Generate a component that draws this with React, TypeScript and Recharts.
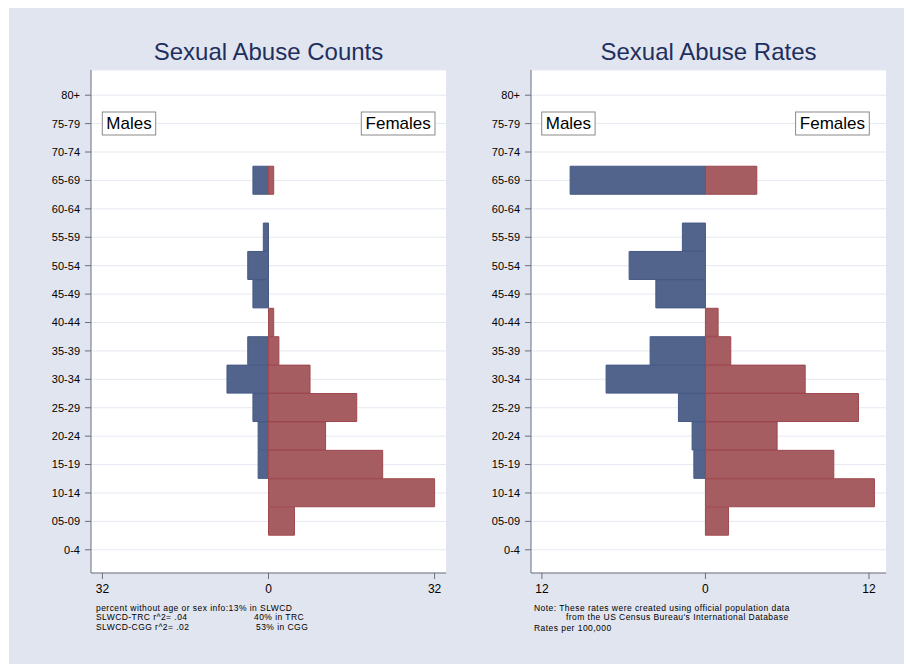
import React from "react";
import { BarChart, Bar, XAxis, YAxis, CartesianGrid } from "recharts";

// age groups, top of the pyramid first
const ageGroups = [
  "80+", "75-79", "70-74", "65-69", "60-64", "55-59", "50-54", "45-49", "40-44",
  "35-39", "30-34", "25-29", "20-24", "15-19", "10-14", "05-09", "0-4",
];

const maleCounts = [0, 0, 0, 3, 0, 1, 4, 3, 0, 4, 8, 3, 2, 2, 0, 0, 0];
const femaleCounts = [0, 0, 0, 1, 0, 0, 0, 0, 1, 2, 8, 17, 11, 22, 32, 5, 0];

const maleRates = [0, 0, 0, 9.93, 0, 1.69, 5.6, 3.64, 0, 4.06, 7.29, 1.98, 0.98, 0.85, 0, 0, 0];
const femaleRates = [0, 0, 0, 3.77, 0, 0, 0, 0, 0.93, 1.86, 7.32, 11.23, 5.26, 9.42, 12.4, 1.69, 0];

const countTicks = [-32, 0, 32];
const rateTicks = [-12, 0, 12];

const FONT = "'Liberation Sans', Arial, Helvetica, sans-serif";
const MALE = "#52648b";
const MALE_EDGE = "#465a86";
const FEMALE = "#a65d61";
const FEMALE_EDGE = "#9e474e";
const AXIS = "#6b6f7b";
const BG = "#e1e5ef";

function buildRows(males: number[], females: number[]) {
  return ageGroups.map((age, i) => ({ age, male: -males[i], female: females[i] }));
}

interface PyramidProps {
  rows: { age: string; male: number; female: number }[];
  domain: [number, number];
  ticks: number[];
  left: number;
}

function Pyramid({ rows, domain, ticks, left }: PyramidProps) {
  return (
    <div style={{ position: "absolute", left, top: 0 }}>
      <BarChart
        width={440}
        height={620}
        data={rows}
        layout="vertical"
        stackOffset="sign"
        barCategoryGap={0}
        margin={{ top: 62, right: 3, bottom: 30, left: 22 }}
      >
        <CartesianGrid vertical={false} stroke="#e6e9f2" fill="#ffffff" />
        <XAxis
          type="number"
          domain={domain}
          ticks={ticks}
          allowDataOverflow
          height={25}
          tickSize={6}
          tickMargin={5}
          tickFormatter={(v: number) => String(Math.abs(v))}
          tick={{ fontSize: 12, fill: "#000", fontFamily: FONT }}
          axisLine={{ stroke: AXIS }}
          tickLine={{ stroke: AXIS }}
        />
        <YAxis
          type="category"
          dataKey="age"
          width={60}
          interval={0}
          tickSize={6}
          tickMargin={5}
          padding={{ top: 11, bottom: 9 }}
          tick={{ fontSize: 11, fill: "#000", fontFamily: FONT }}
          axisLine={{ stroke: AXIS }}
          tickLine={{ stroke: AXIS }}
        />
        <Bar dataKey="male" stackId="s" fill={MALE} stroke={MALE_EDGE} isAnimationActive={false} />
        <Bar dataKey="female" stackId="s" fill={FEMALE} stroke={FEMALE_EDGE} isAnimationActive={false} />
      </BarChart>
    </div>
  );
}

function SexBox({ x, y, w, label }: { x: number; y: number; w: number; label: string }) {
  return (
    <g>
      <rect x={x} y={y} width={w} height={23} fill="#fff" stroke="#8a8a8a" />
      <text x={x + w / 2} y={y + 17} textAnchor="middle" fontSize={17} fill="#000">
        {label}
      </text>
    </g>
  );
}

export default function App() {
  const countRows = buildRows(maleCounts, femaleCounts);
  const rateRows = buildRows(maleRates, femaleRates);

  return (
    <div
      style={{
        position: "absolute",
        left: 9,
        top: 8,
        width: 895,
        height: 656,
        background: BG,
        fontFamily: FONT,
        overflow: "hidden",
      }}
    >
      <Pyramid rows={countRows} domain={[-34.2, 34.2]} ticks={countTicks} left={0} />
      <Pyramid rows={rateRows} domain={[-12.8, 13.25]} ticks={rateTicks} left={440} />

      <svg
        width={895}
        height={656}
        style={{ position: "absolute", left: 0, top: 0, pointerEvents: "none" }}
        fontFamily={FONT}
      >
        <text x={259.5} y={51.5} textAnchor="middle" fontSize={24} fill="#1e2f5e">
          Sexual Abuse Counts
        </text>
        <text x={699.5} y={51.5} textAnchor="middle" fontSize={24} fill="#1e2f5e">
          Sexual Abuse Rates
        </text>

        <SexBox x={93.3} y={104} w={53.4} label="Males" />
        <SexBox x={352.3} y={104} w={73.7} label="Females" />
        <SexBox x={532.7} y={104} w={53.4} label="Males" />
        <SexBox x={786.6} y={104} w={73.7} label="Females" />

        <g fontSize={8.5} letterSpacing={0.45} fill="#000">
          <text x={87} y={602.5}>percent without age or sex info:13% in SLWCD</text>
          <text x={87} y={612}>SLWCD-TRC r^2= .04</text>
          <text x={245} y={612}>40% in TRC</text>
          <text x={87} y={621.5}>SLWCD-CGG r^2= .02</text>
          <text x={247} y={621.5}>53% in CGG</text>

          <text x={525} y={602.5}>Note: These rates were created using official population data</text>
          <text x={557} y={612}>from the US Census Bureau's International Database</text>
          <text x={525} y={622.5}>Rates per 100,000</text>
        </g>
      </svg>
    </div>
  );
}
